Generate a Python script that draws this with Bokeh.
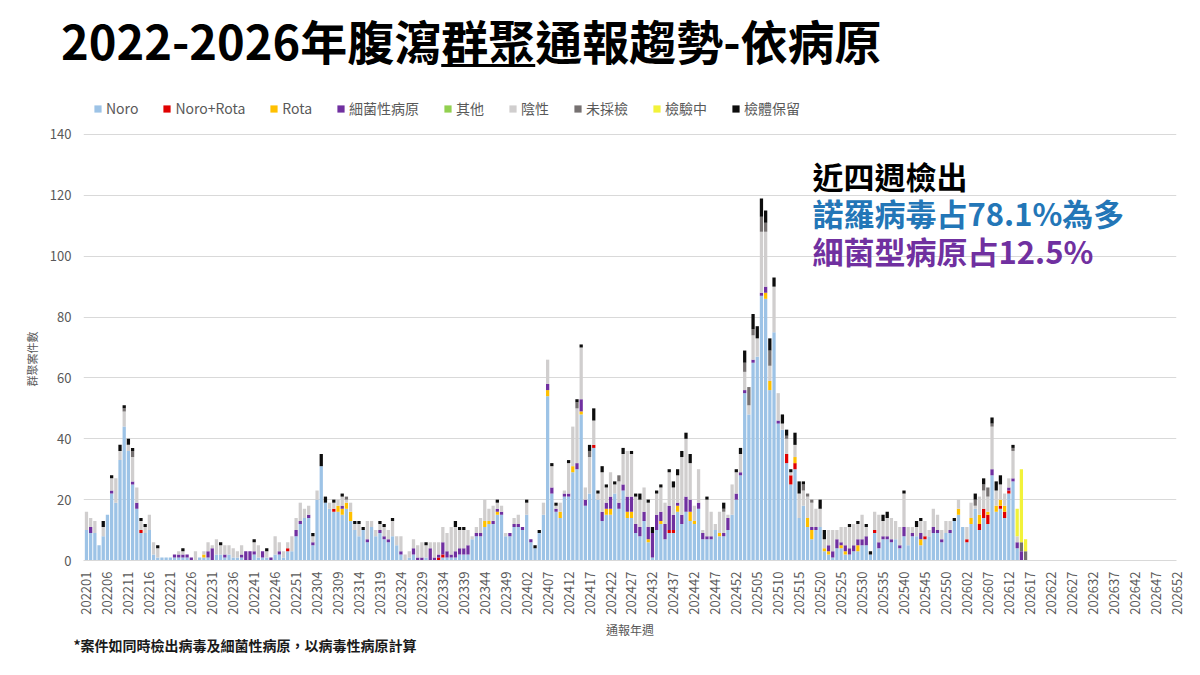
import math
from bokeh.plotting import figure
from bokeh.layouts import column
from bokeh.models import (Range1d, FixedTicker, Legend, LegendItem, Label,
                          ColumnDataSource, Title, Div)
from bokeh.embed import file_html
from bokeh.resources import INLINE

FONT = "Noto Sans CJK TC"

# ---- data (weekly cluster counts, 2022W01 .. 2026W16) ----
series_names = ["Noro", "Noro+Rota", "Rota", "細菌性病原", "其他", "陰性", "未採檢", "檢驗中", "檢體保留"]
series_colors = ["#9DC3E6", "#E00000", "#FFC000", "#7030A0", "#92D050", "#D0CECE", "#767171", "#F2F23A", "#0D0D0D"]

noro = [10, 9, 9, 5, 8, 15, 22, 19, 33, 44, 36, 25, 17, 9, 9, 10, 2, 1, 1, 1,
        1, 1, 1, 1, 1, 0, 0, 1, 1, 1, 0, 2, 2, 1, 2, 1, 1, 1, 0, 0,
        2, 1, 1, 1, 0, 2, 2, 1, 3, 3, 8, 12, 14, 14, 5, 20, 31, 19, 17, 16,
        16, 15, 17, 13, 10, 8, 10, 6, 11, 8, 9, 7, 6, 8, 5, 2, 0, 1, 2, 0,
        0, 1, 0, 0, 0, 1, 1, 1, 1, 2, 2, 2, 7, 8, 8, 11, 12, 12, 15, 15,
        8, 8, 11, 11, 10, 15, 6, 4, 9, 15, 54, 22, 16, 14, 21, 21, 29, 30, 48, 18,
        22, 37, 20, 13, 15, 15, 22, 17, 23, 14, 14, 9, 8, 13, 6, 1, 10, 12, 7, 9,
        9, 16, 12, 16, 13, 12, 17, 7, 7, 7, 10, 8, 8, 10, 15, 20, 28, 55, 48, 65,
        67, 87, 86, 56, 75, 45, 43, 32, 25, 30, 14, 18, 11, 7, 10, 11, 3, 2, 1, 4,
        4, 2, 2, 3, 3, 5, 5, 2, 9, 4, 7, 7, 6, 7, 4, 8, 5, 8, 8, 5,
        7, 8, 9, 9, 6, 9, 9, 13, 15, 11, 6, 12, 17, 10, 14, 12, 28, 16, 17, 14,
        22, 26, 4, 0, 0]
noro_rota = [0, 0, 0, 0, 0, 0, 0, 0, 0, 0, 0, 0, 0, 1, 0, 0, 0, 0, 0, 0,
             0, 0, 0, 0, 0, 0, 0, 0, 0, 0, 0, 0, 0, 0, 0, 0, 0, 0, 0, 0,
             0, 0, 0, 0, 0, 0, 0, 0, 1, 0, 0, 0, 0, 0, 0, 0, 0, 0, 0, 1,
             0, 0, 0, 0, 0, 0, 0, 0, 0, 0, 0, 0, 0, 0, 0, 0, 0, 0, 0, 0,
             0, 0, 0, 0, 1, 1, 0, 0, 0, 0, 0, 0, 0, 0, 0, 0, 0, 0, 0, 0,
             0, 0, 0, 0, 0, 0, 0, 0, 0, 0, 0, 0, 0, 0, 0, 0, 0, 0, 0, 0,
             0, 1, 0, 0, 0, 0, 0, 0, 0, 0, 0, 0, 0, 0, 0, 0, 0, 0, 0, 1,
             1, 0, 0, 0, 0, 0, 0, 0, 0, 0, 0, 0, 0, 0, 0, 0, 0, 0, 0, 0,
             0, 0, 0, 0, 0, 0, 0, 3, 3, 2, 0, 0, 0, 0, 0, 0, 0, 0, 0, 0,
             0, 0, 0, 0, 0, 0, 0, 0, 1, 0, 0, 0, 0, 0, 0, 0, 0, 0, 0, 0,
             1, 0, 0, 0, 0, 0, 0, 0, 0, 0, 1, 0, 0, 2, 3, 3, 0, 0, 1, 2,
             1, 0, 0, 0, 0]
rota = [0, 0, 0, 0, 0, 0, 0, 0, 0, 0, 0, 0, 0, 0, 0, 0, 0, 0, 0, 0,
        0, 0, 0, 0, 0, 0, 0, 0, 1, 0, 0, 0, 0, 0, 0, 0, 0, 0, 0, 0,
        0, 0, 0, 0, 0, 0, 0, 0, 0, 0, 0, 0, 0, 0, 0, 0, 0, 0, 0, 0,
        2, 2, 2, 3, 0, 0, 0, 0, 0, 0, 0, 0, 0, 0, 0, 0, 0, 0, 0, 0,
        0, 0, 0, 0, 0, 0, 0, 0, 0, 0, 0, 0, 0, 0, 0, 2, 1, 0, 1, 0,
        0, 0, 0, 0, 0, 0, 0, 0, 0, 0, 2, 0, 0, 2, 0, 0, 2, 0, 1, 0,
        0, 0, 0, 0, 2, 2, 0, 0, 0, 2, 2, 0, 0, 0, 1, 0, 0, 1, 0, 0,
        0, 2, 0, 0, 3, 1, 0, 0, 0, 0, 0, 1, 0, 0, 0, 0, 0, 0, 0, 0,
        0, 0, 2, 3, 0, 0, 0, 0, 0, 2, 0, 0, 3, 3, 0, 0, 1, 1, 0, 0,
        1, 1, 0, 0, 2, 0, 0, 0, 0, 0, 0, 0, 0, 0, 0, 0, 0, 0, 0, 2,
        0, 0, 0, 0, 0, 0, 0, 0, 2, 0, 0, 2, 0, 3, 0, 1, 0, 2, 2, 2,
        0, 0, 0, 0, 0]
bacterial = [0, 2, 0, 0, 0, 0, 1, 0, 0, 0, 0, 1, 2, 0, 0, 0, 0, 0, 0, 0,
             0, 1, 1, 1, 1, 1, 0, 0, 0, 2, 4, 0, 0, 1, 0, 0, 0, 1, 3, 3,
             1, 0, 2, 0, 1, 0, 1, 0, 0, 0, 2, 1, 0, 1, 1, 0, 0, 0, 0, 0,
             0, 1, 0, 0, 0, 0, 0, 1, 0, 0, 1, 1, 1, 0, 0, 1, 0, 0, 2, 1,
             1, 0, 4, 1, 1, 4, 2, 1, 2, 2, 2, 3, 0, 1, 1, 0, 0, 1, 1, 1,
             0, 1, 1, 1, 1, 0, 1, 0, 0, 0, 2, 2, 1, 0, 1, 1, 0, 2, 4, 2,
             0, 0, 0, 3, 2, 4, 0, 2, 2, 5, 5, 3, 3, 3, 4, 8, 5, 3, 5, 8,
             5, 1, 3, 5, 4, 0, 2, 2, 1, 1, 0, 0, 1, 4, 0, 2, 1, 1, 0, 1,
             0, 1, 2, 0, 0, 1, 0, 0, 0, 0, 0, 0, 0, 1, 1, 0, 0, 2, 2, 3,
             1, 2, 2, 2, 2, 2, 3, 0, 0, 2, 1, 1, 1, 0, 1, 3, 0, 1, 0, 2,
             0, 0, 2, 1, 1, 0, 1, 0, 0, 0, 0, 0, 0, 0, 0, 0, 2, 0, 0, 0,
             1, 1, 2, 3, 0]
other = [0] * 225
negative = [6, 3, 4, 0, 3, 0, 4, 8, 3, 5, 2, 8, 5, 3, 2, 5, 4, 3, 0, 0,
            0, 0, 1, 1, 0, 0, 3, 0, 1, 3, 1, 5, 3, 3, 3, 3, 2, 3, 0, 0,
            3, 4, 0, 2, 0, 6, 3, 2, 2, 5, 4, 6, 3, 3, 2, 3, 0, 0, 2, 2,
            2, 3, 1, 3, 2, 4, 0, 6, 2, 2, 2, 3, 3, 5, 3, 5, 2, 2, 3, 4,
            5, 4, 2, 5, 4, 5, 6, 9, 8, 6, 6, 5, 1, 2, 5, 7, 4, 5, 2, 2,
            1, 0, 2, 3, 0, 4, 0, 0, 0, 4, 8, 7, 1, 3, 1, 10, 13, 18, 17, 4,
            12, 8, 2, 13, 5, 8, 3, 7, 10, 15, 14, 9, 9, 8, 8, 0, 7, 8, 7, 11,
            9, 9, 19, 19, 12, 5, 11, 1, 12, 8, 2, 7, 7, 1, 10, 7, 6, 6, 3, 8,
            6, 20, 18, 5, 15, 9, 2, 5, 1, 4, 8, 5, 7, 8, 6, 6, 3, 5, 7, 3,
            5, 6, 7, 7, 5, 8, 3, 0, 6, 9, 5, 6, 7, 6, 6, 11, 6, 2, 3, 4,
            5, 2, 6, 5, 3, 4, 3, 0, 3, 0, 4, 5, 1, 6, 6, 5, 14, 5, 5, 4,
            3, 9, 2, 0, 0]
untested = [0, 0, 0, 0, 0, 0, 0, 0, 0, 1, 0, 2, 0, 0, 0, 0, 0, 0, 0, 0,
            0, 0, 0, 0, 0, 0, 0, 0, 0, 0, 0, 0, 0, 0, 0, 0, 0, 0, 0, 0,
            0, 0, 0, 0, 0, 0, 0, 0, 0, 0, 0, 0, 0, 0, 0, 0, 0, 0, 0, 0,
            0, 0, 1, 0, 0, 0, 0, 0, 0, 0, 0, 0, 0, 0, 0, 0, 0, 0, 0, 0,
            0, 0, 0, 0, 0, 0, 0, 0, 0, 0, 0, 0, 0, 0, 0, 0, 0, 0, 0, 0,
            0, 0, 0, 0, 0, 0, 0, 0, 0, 0, 0, 0, 0, 0, 0, 0, 0, 2, 0, 0,
            2, 0, 0, 0, 0, 0, 0, 2, 0, 0, 0, 0, 0, 0, 0, 0, 0, 0, 0, 0,
            0, 0, 0, 0, 0, 0, 0, 0, 0, 0, 0, 0, 1, 0, 0, 0, 0, 3, 6, 2,
            0, 5, 3, 5, 0, 0, 0, 1, 0, 0, 0, 2, 1, 1, 0, 0, 0, 0, 0, 0,
            0, 0, 0, 0, 0, 0, 0, 0, 0, 0, 0, 0, 0, 0, 0, 0, 0, 0, 0, 0,
            0, 0, 0, 0, 0, 0, 0, 0, 0, 0, 0, 0, 2, 0, 2, 3, 1, 0, 0, 0,
            0, 1, 0, 3, 3]
testing = [0] * 222 + [9, 24, 4]
retained = [0, 0, 0, 0, 2, 0, 1, 0, 2, 1, 2, 1, 0, 1, 1, 0, 0, 1, 0, 0,
            0, 0, 0, 1, 0, 0, 0, 0, 0, 0, 0, 0, 1, 0, 0, 0, 0, 0, 0, 0,
            1, 0, 0, 1, 0, 0, 0, 0, 0, 0, 0, 0, 0, 0, 1, 0, 4, 2, 0, 1,
            0, 1, 0, 0, 1, 1, 1, 0, 0, 0, 1, 1, 0, 1, 0, 0, 0, 0, 0, 0,
            0, 1, 0, 0, 0, 0, 0, 0, 2, 1, 1, 0, 0, 0, 0, 0, 0, 0, 1, 0,
            0, 0, 0, 0, 0, 1, 0, 1, 1, 0, 0, 1, 1, 0, 0, 1, 0, 1, 1, 0,
            2, 4, 1, 2, 1, 0, 1, 0, 2, 0, 1, 1, 2, 0, 1, 2, 1, 1, 0, 1,
            2, 2, 2, 2, 3, 0, 0, 0, 1, 0, 0, 0, 2, 0, 0, 1, 2, 4, 0, 5,
            4, 6, 4, 4, 3, 0, 3, 2, 1, 4, 4, 1, 0, 0, 0, 3, 3, 0, 0, 0,
            0, 0, 1, 0, 1, 0, 1, 1, 0, 0, 2, 2, 0, 0, 0, 1, 0, 0, 2, 1,
            0, 0, 0, 0, 0, 0, 0, 1, 0, 0, 0, 0, 2, 0, 2, 0, 2, 3, 3, 0,
            0, 1, 0, 0, 0]

tick_labels = ["202201", "202206", "202211", "202216", "202221", "202226", "202231", "202236",
               "202241", "202246", "202251", "202304", "202309", "202314", "202319", "202324",
               "202329", "202334", "202339", "202344", "202349", "202402", "202407", "202412",
               "202417", "202422", "202427", "202432", "202437", "202442", "202447", "202452",
               "202505", "202510", "202515", "202520", "202525", "202530", "202535", "202540",
               "202545", "202550", "202602", "202607", "202612", "202617", "202622", "202627",
               "202632", "202637", "202642", "202647", "202652"]
tick_step = 5  # one label every 5 weeks

y_ticks = [0, 20, 40, 60, 80, 100, 120, 140]

W = 1184
TOP_H = 80        # title strip
MAIN_H = 579      # chart

# ---- title strip (HTML, so 群聚 can be underlined) ----
title_html = ('<div style="margin:0;padding:0 0 0 61px;height:80px;line-height:80px;'
              'white-space:nowrap;font-family:\'Noto Sans CJK TC\';font-size:47px;'
              'font-weight:bold;color:#000000;">'
              '2022-2026年腹瀉<span style="text-decoration:underline;'
              'text-decoration-thickness:3px;text-underline-offset:4px;">群聚</span>'
              '通報趨勢-依病原</div>')
t = Div(text=title_html, width=W, height=TOP_H, margin=0)

# ---- chart ----
keys = ["noro", "noro_rota", "rota", "bact", "other", "neg", "untested", "testing", "retained"]
cols = [noro, noro_rota, rota, bacterial, other, negative, untested, testing, retained]
data = {"x": list(range(len(noro)))}
for k, c in zip(keys, cols):
    data[k] = c
src = ColumnDataSource(data)

p = figure(width=W, height=MAIN_H, output_backend="svg", toolbar_location=None,
           x_range=Range1d(-0.71, 260.0), y_range=Range1d(0, 140 + (134 - TOP_H) / 3.043),
           min_border_left=83, min_border_right=8, min_border_top=0, min_border_bottom=99)
p.outline_line_color = None
p.background_fill_alpha = 0
p.border_fill_color = "white"

rs = p.vbar_stack(keys, x="x", width=0.78, source=src, color=series_colors, line_color=None)

tick_pos = [i * tick_step for i in range(len(tick_labels))]
p.xaxis.ticker = FixedTicker(ticks=tick_pos)
p.xaxis.major_label_overrides = {pos: lab for pos, lab in zip(tick_pos, tick_labels)}
p.xaxis.major_label_orientation = math.pi / 2
p.yaxis.ticker = FixedTicker(ticks=y_ticks)
for ax in (p.xaxis, p.yaxis):
    ax.major_tick_line_color = None
    ax.minor_tick_line_color = None
    ax.major_label_text_color = "#595959"
    ax.major_label_text_font = FONT
    ax.major_label_text_font_size = "13px"
    ax.axis_label_text_font = FONT
    ax.axis_label_text_color = "#595959"
    ax.axis_label_text_font_style = "normal"
p.xaxis.axis_line_color = "#D9D9D9"
p.yaxis.axis_line_color = None
p.xaxis.major_label_standoff = 5
p.yaxis.major_label_standoff = 6
p.xaxis.axis_label = "通報年週"
p.xaxis.axis_label_text_font_size = "12px"
p.xaxis.axis_label_standoff = 3
p.yaxis.axis_label = "群聚案件數" + "\u3000" * 7
p.yaxis.axis_label_text_font_size = "11px"
p.yaxis.axis_label_standoff = 7
p.xgrid.grid_line_color = None
p.ygrid.grid_line_color = "#D9D9D9"

p.add_layout(Title(text="*案件如同時檢出病毒及細菌性病原，以病毒性病原計算", align="left", offset=-10,
                   text_font=FONT, text_font_size="14px", text_font_style="bold",
                   text_color="#1A1A1A", standoff=-15), "below")

items = [LegendItem(label=n, renderers=[r]) for n, r in zip(series_names, rs)]
leg = Legend(items=items, location=(10, 442), orientation="horizontal",
             glyph_width=9, glyph_height=9, label_standoff=4, spacing=24,
             padding=0, margin=0, label_text_font=FONT, label_text_font_size="14px",
             label_text_color="#595959", background_fill_alpha=0, border_line_color=None)
p.add_layout(leg)

def lab(text, x, y, size, color="#000000", style="normal", align="left"):
    p.add_layout(Label(x=x, y=y, x_units="screen", y_units="screen", text=text,
                       text_font=FONT, text_font_size=size, text_color=color,
                       text_font_style=style, text_align=align, text_baseline="middle"))

lab("近四週檢出", 729, 385, "31px", "#000000", "bold")
lab("諾羅病毒占78.1%為多", 729, 348, "31px", "#2376B7", "bold")
lab("細菌型病原占12.5%", 729, 310, "31px", "#7030A0", "bold")

layout = column(t, p, spacing=0)
open("out.html", "w").write(file_html(layout, INLINE))
